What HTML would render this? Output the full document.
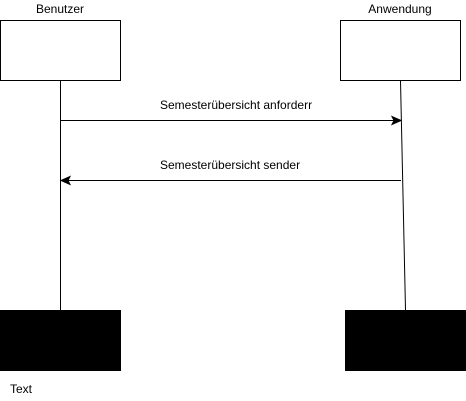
<!DOCTYPE html>
<html><head><meta charset="utf-8"><style>
html,body{margin:0;padding:0;background:#fff;}
svg{display:block;}
text{font-family:"Liberation Sans",Arial,sans-serif;font-size:12px;fill:#000;}
</style></head><body>
<svg width="466" height="401" viewBox="0 0 466 401" xmlns="http://www.w3.org/2000/svg">
<text x="60" y="13" text-anchor="middle">Benutzer</text>
<text x="400" y="13" text-anchor="middle">Anwendung</text>
<rect x="0.5" y="20.5" width="120" height="60" fill="#fff" stroke="#000"/>
<rect x="340.5" y="20.5" width="120" height="60" fill="#fff" stroke="#000"/>
<line x1="60.5" y1="80.5" x2="60.5" y2="310" stroke="#000"/>
<line x1="400.5" y1="80.5" x2="405.5" y2="310" stroke="#000"/>
<line x1="60.5" y1="120.5" x2="395" y2="120.5" stroke="#000"/>
<path d="M401,120.5 L392,116.5 L394,120.5 L392,124.5 Z" fill="#000" stroke="#000"/>
<line x1="401" y1="180.5" x2="66" y2="180.5" stroke="#000"/>
<path d="M61,180.5 L70,176.5 L68,180.5 L70,184.5 Z" fill="#000" stroke="#000"/>
<text x="160" y="109">Semesterübersicht anforderr</text>
<text x="160" y="169">Semesterübersicht sender</text>
<rect x="0" y="310" width="121" height="61" fill="#000"/>
<rect x="345" y="310" width="121" height="61" fill="#000"/>
<text x="10" y="393">Text</text>
</svg>
</body></html>
